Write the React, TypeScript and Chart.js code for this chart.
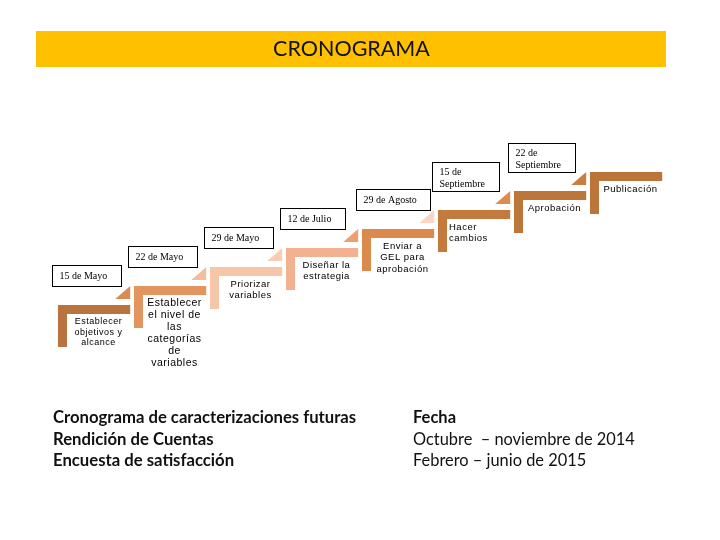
import React, { useEffect, useRef } from 'react';
import { Chart, registerables } from 'chart.js';

Chart.register(...registerables);

// ---------- data ----------
const stepNumbers = [0, 1, 2, 3, 4, 5, 6, 7];
const stepLabels = [
  'Establecer\nobjetivos y\nalcance',
  'Establecer\nel nivel de\nlas\ncategorías\nde\nvariables',
  'Priorizar\nvariables',
  'Diseñar la\nestrategia',
  'Enviar a\nGEL para\naprobación',
  'Hacer\ncambios',
  'Aprobación',
  'Publicación',
];
const stepDates = [
  '15 de Mayo',
  '22 de Mayo',
  '29 de Mayo',
  '12 de Julio',
  '29 de Agosto',
  '15 de\nSeptiembre',
  '22 de\nSeptiembre',
  '',
];
const titleText = 'CRONOGRAMA';
const tableLeft = ['Cronograma de caracterizaciones futuras', 'Rendición de Cuentas', 'Encuesta de satisfacción'];
const tableRight = ['Fecha', 'Octubre  – noviembre de 2014', 'Febrero – junio de 2015'];

// ---------- styles ----------
const barColors = ['#B8733F', '#E3955F', '#F6C6A8', '#F2B291', '#DB8A4E', '#C47A3C', '#BD763A', '#BC7538'];
const arrowColors = ['#D98B52', '#F4BE9E', '#F7CDB3', '#EBA071', '#F8D6C2', '#DD8B4E', '#C97D40', ''];
const labelFontSizes = [9, 10.5, 9.5, 9.5, 9.5, 9.5, 9.5, 9.5];
const labelLineHeights = [10.5, 12, 11, 11, 11.5, 11, 11, 11];
const labelAligns = ['center', 'center', 'center', 'center', 'center', 'left', 'center', 'center'];

const SANS = '"Liberation Sans", Arial, sans-serif';
const SERIF = '"Liberation Serif", "Times New Roman", serif';
const HEAD = 'Lato, "Open Sans", sans-serif';

const stepPlugin = {
  id: 'stepPlugin',
  beforeDraw(chart: any) {
    const ctx = chart.ctx;
    ctx.save();
    ctx.fillStyle = '#ffffff';
    ctx.fillRect(0, 0, chart.width, chart.height);
    // title band
    ctx.fillStyle = '#FFC000';
    ctx.fillRect(36, 31, 630, 36);
    ctx.fillStyle = '#111111';
    ctx.font = `21.5px ${HEAD}`;
    ctx.textAlign = 'center';
    ctx.textBaseline = 'middle';
    ctx.fillText(titleText, 351.5, 49);
    // bottom table
    ctx.textAlign = 'left';
    ctx.font = `bold 16.7px ${HEAD}`;
    tableLeft.forEach((t, i) => {
      ctx.fillText(t, 53, 418 + i * 21.5);
    });
    tableRight.forEach((t, i) => {
      ctx.font = i === 0 ? `bold 16.5px ${HEAD}` : `16.4px ${HEAD}`;
      ctx.fillText(t, 413, 418 + i * 21.5);
    });
    ctx.restore();
  },
  afterDatasetsDraw(chart: any) {
    const ctx = chart.ctx;
    const meta = chart.getDatasetMeta(0);
    const xs = chart.scales.x;
    const unit = xs.getPixelForValue(1) - xs.getPixelForValue(0);
    const barLen = unit * 0.95;
    const thick = 9;
    const depth = 42;
    const n = meta.data.length;
    ctx.save();
    meta.data.forEach((pt: any, i: number) => {
      const L = pt.x;
      const T = pt.y;
      // corner shape
      ctx.fillStyle = barColors[i];
      ctx.beginPath();
      ctx.moveTo(L, T);
      ctx.lineTo(L + barLen, T);
      ctx.lineTo(L + barLen, T + thick);
      ctx.lineTo(L + thick, T + thick);
      ctx.lineTo(L + thick, T + depth);
      ctx.lineTo(L, T + depth);
      ctx.closePath();
      ctx.fill();
      // small triangle
      if (i < n - 1) {
        ctx.fillStyle = arrowColors[i];
        ctx.beginPath();
        ctx.moveTo(L + barLen, T - 6);
        ctx.lineTo(L + barLen - 15, T - 6);
        ctx.lineTo(L + barLen, T - 19);
        ctx.closePath();
        ctx.fill();
      }
      // step label
      const lines = stepLabels[i].split('\n');
      ctx.fillStyle = '#000000';
      ctx.font = `${labelFontSizes[i]}px ${SANS}`;
      (ctx as any).letterSpacing = '0.5px';
      ctx.textBaseline = 'middle';
      const lh = labelLineHeights[i];
      lines.forEach((ln, k) => {
        if (labelAligns[i] === 'left') {
          ctx.textAlign = 'left';
          ctx.fillText(ln, L + thick + 2, T + 17 + k * lh);
        } else {
          ctx.textAlign = 'center';
          ctx.fillText(ln, L + 40.5, T + 17 + k * lh);
        }
      });
      (ctx as any).letterSpacing = '0px';
      // date box
      if (stepDates[i]) {
        const dl = stepDates[i].split('\n');
        ctx.font = `10px ${SERIF}`;
        const tw = Math.max(...dl.map((s) => ctx.measureText(s).width));
        const bw = Math.round(tw + 21);
        const bh = dl.length === 1 ? 21 : 29;
        const bx = Math.round(L - 6) + 0.5;
        const by = Math.round(T - 19 - bh) + 0.5;
        ctx.fillStyle = '#ffffff';
        ctx.fillRect(bx, by, bw, bh);
        ctx.strokeStyle = '#000000';
        ctx.lineWidth = 1;
        ctx.strokeRect(bx, by, bw, bh);
        ctx.fillStyle = '#000000';
        ctx.textAlign = 'left';
        ctx.textBaseline = 'middle';
        if (dl.length === 1) {
          ctx.fillText(dl[0], bx + 7, by + bh / 2);
        } else {
          dl.forEach((s, k) => ctx.fillText(s, bx + 7, by + 10 + k * 12));
        }
      }
    });
    ctx.restore();
  },
};

export default function App() {
  const ref = useRef<HTMLCanvasElement | null>(null);
  useEffect(() => {
    document.body.style.margin = '0';
    const canvas = ref.current;
    if (!canvas) return;
    const stepX0 = 58;
    const stepDX = 76;
    const stepY0 = 305;
    const stepDY = 19;
    const chart = new Chart(canvas, {
      type: 'scatter',
      data: {
        datasets: [
          {
            label: 'Pasos',
            data: stepNumbers.map((s) => ({ x: s, y: s })),
            pointRadius: 0,
            pointHoverRadius: 0,
            showLine: false,
          },
        ],
      },
      options: {
        responsive: false,
        animation: false,
        devicePixelRatio: 1,
        layout: { padding: 0 },
        events: [],
        plugins: {
          legend: { display: false },
          tooltip: { enabled: false },
          title: { display: false },
        },
        scales: {
          x: {
            type: 'linear',
            display: false,
            min: -stepX0 / stepDX,
            max: (720 - stepX0) / stepDX,
          },
          y: {
            type: 'linear',
            display: false,
            min: -(540 - stepY0) / stepDY,
            max: stepY0 / stepDY,
          },
        },
      },
      plugins: [stepPlugin],
    });
    return () => chart.destroy();
  }, []);
  return <canvas ref={ref} width={720} height={540} style={{ display: 'block', width: 720, height: 540 }} />;
}
